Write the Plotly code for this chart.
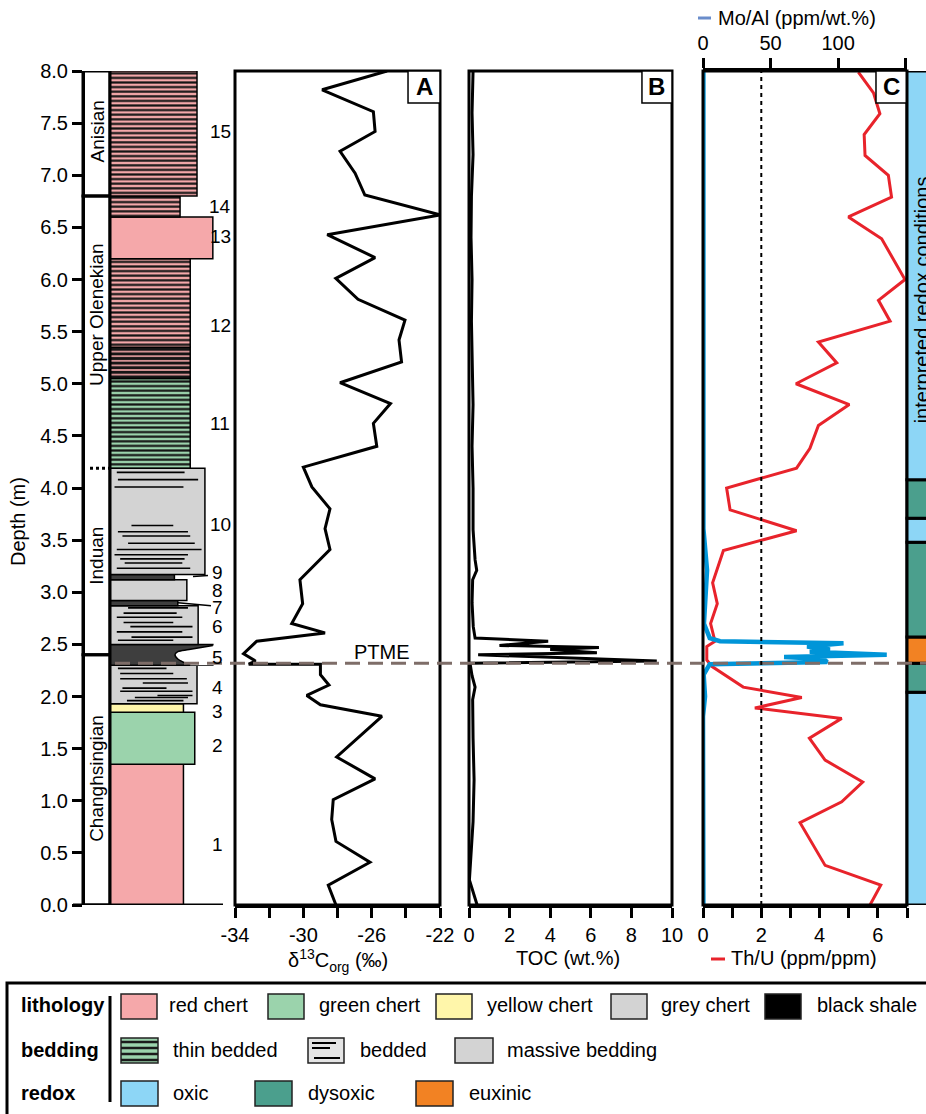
import plotly.graph_objects as go

W, H = 926, 1114
def X(p):  # pixel -> paper x
    return p / W
def Y(p):  # pixel -> paper y
    return 1 - p / H

# ---------------- DATA ----------------
# delta13C org (permil) vs depth (m)
d13c_depth = [8.00, 7.82, 7.61, 7.42, 7.23, 7.02, 6.81, 6.62, 6.43, 6.21, 6.01, 5.81, 5.61, 5.42, 5.21,
              5.01, 4.81, 4.62, 4.40, 4.20, 4.01, 3.80, 3.61, 3.41, 3.12, 2.89, 2.70, 2.61, 2.53, 2.41,
              2.34, 2.31, 2.31, 2.21, 2.11, 2.01, 1.92, 1.81, 1.42, 1.21, 1.01, 0.82, 0.61, 0.41, 0.19, 0.00]
d13c = [-25.1, -28.9, -25.9, -25.8, -27.85, -26.97, -26.4, -22.0, -28.6, -25.8, -28.1, -26.8, -24.05, -24.4, -24.25,
        -27.85, -24.9, -25.9, -25.7, -30.0, -29.5, -28.44, -28.73, -28.44, -30.2, -30.04, -30.68, -28.73, -32.73, -33.5,
        -32.8, -33.2, -29.0, -29.0, -28.5, -29.8, -29.0, -25.4, -28.05, -25.8, -28.25, -28.34, -28.09, -26.1, -28.54, -28.09]

# TOC (wt.%)
toc_depth = [8.0, 7.6, 7.2, 6.8, 6.4, 6.0, 5.6, 5.2, 4.8, 4.4, 4.0, 3.6, 3.31, 3.21, 3.12, 2.9, 2.67, 2.56,
             2.53, 2.49, 2.47, 2.45, 2.42, 2.40, 2.34, 2.32, 2.2, 2.09, 1.97, 1.6, 1.2, 0.8, 0.5, 0.24, 0.0]
toc = [0.2, 0.15, 0.2, 0.12, 0.1, 0.15, 0.12, 0.15, 0.2, 0.15, 0.2, 0.2, 0.3, 0.38, 0.18, 0.15, 0.21, 0.3,
       3.9, 1.5, 6.4, 4.0, 6.3, 0.45, 9.25, 0.05, 0.15, 0.3, 0.18, 0.2, 0.25, 0.2, 0.1, 0.02, 0.4]

# Th/U (ppm/ppm)
thu_depth = [7.99, 7.79, 7.59, 7.39, 7.19, 7.00, 6.79, 6.60, 6.39, 6.00, 5.80, 5.60, 5.40, 5.20, 5.00, 4.80,
             4.60, 4.38, 4.19, 4.00, 3.79, 3.59, 3.40, 3.09, 2.89, 2.70, 2.53, 2.48, 2.35, 2.29, 2.09, 1.99,
             1.89, 1.79, 1.60, 1.39, 1.18, 0.99, 0.79, 0.38, 0.19, 0.0]
thu = [5.33, 5.85, 6.07, 5.53, 5.56, 6.36, 6.47, 4.99, 6.13, 6.93, 6.02, 6.42, 3.96, 4.59, 3.19, 5.02,
       3.96, 3.67, 3.21, 0.81, 0.93, 3.21, 0.70, 0.33, 0.49, 0.26, 0.41, 0.13, 0.13, 0.30, 1.38, 3.39,
       1.78, 4.76, 3.65, 4.19, 5.48, 4.76, 3.33, 4.19, 6.10, 5.73]

# Mo/Al (ppm/wt.%)
mo_depth = [8.0, 4.2, 3.61, 3.21, 2.70, 2.56, 2.53, 2.51, 2.48, 2.45, 2.43, 2.40, 2.38, 2.36, 2.33, 2.31,
            2.21, 2.0, 1.81, 0.0]
mo_al = [0.3, 0.3, 0.3, 3.0, 0.7, 5.0, 12.6, 104, 77, 94, 79, 136, 60, 89, 92, 5.0,
         0.5, 1.5, 0.0, 0.3]

thu_threshold = 2
ptme_depth = 2.32

# Lithology log
litho_bottom = [0.00, 1.35, 1.85, 1.93, 2.30, 2.50, 2.87, 2.92, 3.12, 3.17, 4.19, 5.05, 5.35, 6.20, 6.60, 6.80]
litho_top = [1.35, 1.85, 1.93, 2.30, 2.50, 2.87, 2.92, 3.12, 3.17, 4.19, 5.05, 5.35, 6.20, 6.60, 6.80, 8.00]
litho_type = ['red chert', 'green chert', 'yellow chert', 'grey chert', 'black shale', 'grey chert',
              'black shale', 'grey chert', 'black shale', 'grey chert', 'green chert', 'red chert',
              'red chert', 'red chert', 'red chert', 'red chert']
litho_bedding = ['massive', 'massive', 'massive', 'bedded', 'massive', 'bedded', 'massive', 'massive',
                 'massive', 'bedded', 'thin', 'thin-dense', 'thin', 'massive', 'thin', 'thin']
litho_width = [0.65, 0.75, 0.65, 0.77, 0.91, 0.78, 0.60, 0.68, 0.57, 0.84, 0.71, 0.71, 0.71, 0.91, 0.62, 0.77]

# weathering notch on the right side of bed 5 (black shale): (relative width, depth)
notch_x = [0.91, 0.70, 0.60, 0.575, 0.60, 0.71]
notch_d = [2.49, 2.45, 2.43, 2.40, 2.36, 2.30]

# short bedding lines inside the "bedded" grey chert beds
bed_line_depth = [4.15, 4.08, 4.01, 3.64, 3.58, 3.54, 3.47, 3.41, 3.36, 3.32, 3.28, 3.23,
                  2.85, 2.80, 2.76, 2.71, 2.67, 2.62, 2.57, 2.54,
                  2.27, 2.22, 2.17, 2.13, 2.08, 2.05, 2.01, 1.99, 1.96]
bed_line_start = [0.06, 0.07, 0.04, 0.19, 0.07, 0.11, 0.16, 0.06, 0.04, 0.09, 0.13, 0.06,
                  0.16, 0.12, 0.06, 0.12, 0.18, 0.06, 0.19, 0.07,
                  0.07, 0.09, 0.09, 0.29, 0.11, 0.09, 0.42, 0.22, 0.15]
bed_line_end = [0.66, 0.78, 0.65, 0.56, 0.69, 0.71, 0.75, 0.81, 0.69, 0.66, 0.64, 0.71,
                0.69, 0.59, 0.64, 0.56, 0.73, 0.64, 0.73, 0.56,
                0.50, 0.56, 0.68, 0.69, 0.50, 0.73, 0.73, 0.69, 0.65]

bed_numbers = ['1', '2', '3', '4', '5', '6', '7', '8', '9', '10', '11', '12', '13', '14', '15']
bed_number_depth = [0.58, 1.53, 1.86, 2.09, 2.37, 2.67, 2.85, 3.02, 3.19, 3.65, 4.62, 5.56, 6.41, 6.70, 7.42]

# Stages
stage_bottom = [0.0, 2.4, 6.8]
stage_top = [2.4, 6.8, 8.0]
stage_names = ['Changhsingian', 'Induan', 'Upper Olenekian', 'Anisian']
stage_label_depth = [1.21, 3.35, 5.66, 7.42]
induan_olenekian_boundary = 4.19

# Redox
redox_bottom = [0.0, 2.04, 2.32, 2.57, 3.48, 3.71, 4.08]
redox_top = [2.04, 2.32, 2.57, 3.48, 3.71, 4.08, 8.0]
redox_state = ['oxic', 'dysoxic', 'euxinic', 'dysoxic', 'oxic', 'dysoxic', 'oxic']

depth_ticks = [0.0, 0.5, 1.0, 1.5, 2.0, 2.5, 3.0, 3.5, 4.0, 4.5, 5.0, 5.5, 6.0, 6.5, 7.0, 7.5, 8.0]
d13c_ticks = [-34, -32, -30, -28, -26, -24, -22]
d13c_ticklabels = ['-34', ' ', '-30', ' ', '-26', ' ', '-22']
toc_ticks = [0, 2, 4, 6, 8, 10]
thu_ticks = [0, 1, 2, 3, 4, 5, 6, 7]
thu_ticklabels = ['0', ' ', '2', ' ', '4', ' ', '6', ' ']
mo_ticks = [0, 50, 100, 150]
mo_ticklabels = ['0', '50', '100', ' ']

# ---------------- STYLE ----------------
LITHO_COL = {'red chert': '#F5A8AA', 'green chert': '#9BD3AC', 'yellow chert': '#FFF6AA',
             'grey chert': '#D3D3D3', 'black shale': '#3E3E3E'}
REDOX_COL = {'oxic': '#8DD6F6', 'dysoxic': '#4B9F8D', 'euxinic': '#F28223'}
FONT = 'Liberation Sans, Arial, sans-serif'
BLUE = '#0095D8'
RED = '#E8232B'

fig = go.Figure()

# lithology bars
for b, t, lt, bd, w in zip(litho_bottom, litho_top, litho_type, litho_bedding, litho_width):
    pat = dict(shape='')
    if bd.startswith('thin'):
        pat = dict(shape='-', fgcolor='#151515', bgcolor=LITHO_COL[lt], fillmode='replace', size=4.6,
                   solidity=0.66 if bd == 'thin-dense' else 0.48)
    fig.add_trace(go.Bar(x=[w], y=[(b + t) / 2], width=[t - b], base=0, orientation='h',
                         xaxis='x5', yaxis='y',
                         marker=dict(color=LITHO_COL[lt], line=dict(color='black', width=1.5),
                                     pattern=pat),
                         hoverinfo='skip', showlegend=False))

# notch of bed 5 (white fill, then black outline)
fig.add_trace(go.Scatter(x=notch_x + [1.0, 1.0], y=notch_d + [notch_d[-1], notch_d[0]],
                         fill='toself', fillcolor='white', mode='none', xaxis='x5', yaxis='y',
                         hoverinfo='skip', showlegend=False))
fig.add_trace(go.Scatter(x=notch_x, y=notch_d, mode='lines', xaxis='x5', yaxis='y',
                         line=dict(color='black', width=1.5, shape='spline'),
                         hoverinfo='skip', showlegend=False))

# bedding lines
bx, by = [], []
for d, s, e in zip(bed_line_depth, bed_line_start, bed_line_end):
    bx += [s, e, None]
    by += [d, d, None]
fig.add_trace(go.Scatter(x=bx, y=by, mode='lines', xaxis='x5', yaxis='y',
                         line=dict(color='black', width=1.6), hoverinfo='skip', showlegend=False))

# data curves
fig.add_trace(go.Scatter(x=d13c, y=d13c_depth, mode='lines', xaxis='x', yaxis='y',
                         line=dict(color='black', width=3), showlegend=False))
fig.add_trace(go.Scatter(x=toc, y=toc_depth, mode='lines', xaxis='x2', yaxis='y',
                         line=dict(color='black', width=3), showlegend=False))
fig.add_trace(go.Scatter(x=thu, y=thu_depth, mode='lines', xaxis='x3', yaxis='y',
                         line=dict(color=RED, width=3), showlegend=False))
fig.add_trace(go.Scatter(x=mo_al, y=mo_depth, mode='lines', xaxis='x4', yaxis='y',
                         line=dict(color=BLUE, width=4.5), showlegend=False))

tick_common = dict(ticks='outside', ticklen=10, tickwidth=3, tickcolor='black', automargin=False,
                   showline=True, linewidth=3, linecolor='black', showgrid=False, zeroline=False,
                   tickfont=dict(size=20, color='black', family=FONT))

fig.update_layout(
    template='none',
    width=W, height=H, autosize=False,
    margin=dict(l=0, r=0, t=0, b=0, pad=0),
    paper_bgcolor='white', plot_bgcolor='rgba(0,0,0,0)',
    font=dict(family=FONT, size=20, color='black'),
    barmode='overlay', showlegend=False,
    yaxis=dict(domain=[Y(905), Y(71)], range=[0, 8], anchor='free', position=X(83),
               tickvals=depth_ticks, ticktext=['%.1f' % v for v in depth_ticks], **tick_common),
    xaxis=dict(domain=[X(235), X(440)], range=[-34, -22], anchor='y',
               tickvals=d13c_ticks, ticktext=d13c_ticklabels, **tick_common),
    xaxis2=dict(domain=[X(469), X(672)], range=[0, 10], anchor='y',
                tickvals=toc_ticks, ticktext=[str(v) for v in toc_ticks], **tick_common),
    xaxis3=dict(domain=[X(703), X(907)], range=[0, 7], anchor='y',
                tickvals=thu_ticks, ticktext=thu_ticklabels, **tick_common),
    xaxis4=dict(overlaying='x3', side='top', range=[0, 151], anchor='y',
                tickvals=mo_ticks, ticktext=mo_ticklabels, **tick_common),
    xaxis5=dict(domain=[X(110), X(223)], range=[0, 1], anchor='y', visible=False, automargin=False),
)

shapes = []
annos = []

# panel boxes and letter boxes
for xd, letter, lx0 in [('x domain', 'A', 0.844), ('x2 domain', 'B', 0.852), ('x3 domain', 'C', 0.848)]:
    shapes.append(dict(type='rect', xref=xd, yref='y domain', x0=0, x1=1, y0=0, y1=1,
                       line=dict(color='black', width=3)))
    shapes.append(dict(type='rect', xref=xd, yref='y domain', x0=lx0, x1=1, y0=0.9615, y1=1,
                       fillcolor='white', line=dict(color='black', width=1.5)))
    annos.append(dict(xref=xd, yref='y domain', x=(lx0 + 1) / 2, y=0.981, text='<b>%s</b>' % letter,
                      showarrow=False, font=dict(size=24), xanchor='center', yanchor='middle'))

# stage column
for b, t in zip(stage_bottom, stage_top):
    shapes.append(dict(type='rect', xref='paper', yref='y', x0=X(83), x1=X(110), y0=b, y1=t,
                       line=dict(color='black', width=3), layer='below'))
shapes.append(dict(type='line', xref='paper', yref='y', x0=X(90), x1=X(110),
                   y0=induan_olenekian_boundary, y1=induan_olenekian_boundary,
                   line=dict(color='black', width=3, dash='dot')))
for name, d in zip(stage_names, stage_label_depth):
    annos.append(dict(xref='paper', yref='y', x=X(97), y=d, text=name, textangle=-90,
                      showarrow=False, font=dict(size=19), xanchor='center', yanchor='middle'))

# column base line and left edge of lithology column
shapes.append(dict(type='line', xref='paper', yref='y', x0=X(73), x1=X(223), y0=0, y1=0,
                   line=dict(color='black', width=3)))
shapes.append(dict(type='line', xref='paper', yref='y', x0=X(110), x1=X(110), y0=0, y1=8,
                   line=dict(color='black', width=3)))

# bed numbers
for n, d in zip(bed_numbers, bed_number_depth):
    annos.append(dict(xref='paper', yref='y', x=X(220 if len(n) > 1 else 217), y=d, text=n,
                      showarrow=False, font=dict(size=19), xanchor='center', yanchor='middle'))
# connector ticks for beds 9 and 7
shapes.append(dict(type='line', xref='paper', yref='y', x0=X(193), x1=X(208), y0=3.15, y1=3.16,
                   line=dict(color='black', width=1.5)))
shapes.append(dict(type='line', xref='paper', yref='y', x0=X(178), x1=X(211), y0=2.90, y1=2.87,
                   line=dict(color='black', width=1.5)))

# redox column
for b, t, s in zip(redox_bottom, redox_top, redox_state):
    shapes.append(dict(type='rect', xref='paper', yref='y', x0=X(907), x1=X(960), y0=b, y1=t,
                       fillcolor=REDOX_COL[s], line=dict(color='black', width=3)))
annos.append(dict(xref='paper', yref='y', x=X(922), y=5.8, text='interpreted redox conditions',
                  textangle=-90, showarrow=False, font=dict(size=20), xanchor='center', yanchor='middle'))

# PTME line
shapes.append(dict(type='line', xref='paper', yref='y', x0=X(115), x1=1, y0=ptme_depth, y1=ptme_depth,
                   line=dict(color='#7E6D68', width=3, dash='15px,8px')))
annos.append(dict(xref='paper', yref='y', x=X(382), y=ptme_depth, text='PTME', showarrow=False,
                  font=dict(size=20), xanchor='center', yanchor='bottom', yshift=-2))

# Th/U threshold dotted line
shapes.append(dict(type='line', xref='x3', yref='y domain', x0=thu_threshold, x1=thu_threshold,
                   y0=0, y1=1, line=dict(color='black', width=2, dash='4px,4px')))

# axis titles
annos.append(dict(xref='paper', yref='paper', x=X(18), y=Y(522), text='Depth (m)', textangle=-90,
                  showarrow=False, font=dict(size=20), xanchor='center', yanchor='middle'))
annos.append(dict(xref='paper', yref='paper', x=X(338), y=Y(960),
                  text='δ<sup>13</sup>C<sub>org</sub> (‰)', showarrow=False, font=dict(size=20),
                  xanchor='center', yanchor='middle'))
annos.append(dict(xref='paper', yref='paper', x=X(568), y=Y(958), text='TOC (wt.%)', showarrow=False,
                  font=dict(size=20), xanchor='center', yanchor='middle'))

# series keys
shapes.append(dict(type='line', xref='paper', yref='paper', x0=X(698), x1=X(711), y0=Y(18), y1=Y(18),
                   line=dict(color='#6A8DCB', width=3)))
annos.append(dict(xref='paper', yref='paper', x=X(716), y=Y(18), text='Mo/Al (ppm/wt.%)',
                  showarrow=False, font=dict(size=20), xanchor='left', yanchor='middle'))
shapes.append(dict(type='line', xref='paper', yref='paper', x0=X(711), x1=X(725), y0=Y(959), y1=Y(959),
                   line=dict(color=RED, width=3)))
annos.append(dict(xref='paper', yref='paper', x=X(729), y=Y(958), text='Th/U (ppm/ppm)',
                  showarrow=False, font=dict(size=20), xanchor='left', yanchor='middle'))

# ---------------- bottom legend ----------------
shapes.append(dict(type='rect', xref='paper', yref='paper', x0=X(7), x1=X(980), y0=Y(983), y1=Y(1160),
                   line=dict(color='black', width=3)))
shapes.append(dict(type='line', xref='paper', yref='paper', x0=X(110), x1=X(110), y0=Y(996), y1=Y(1102),
                   line=dict(color='black', width=3)))

def swatch(x0, x1, y0, y1, color):
    shapes.append(dict(type='rect', xref='paper', yref='paper', x0=X(x0), x1=X(x1), y0=Y(y1), y1=Y(y0),
                       fillcolor=color, line=dict(color='#222', width=1.5)))

def label(x, y, text, bold=False):
    annos.append(dict(xref='paper', yref='paper', x=X(x), y=Y(y),
                      text='<b>%s</b>' % text if bold else text, showarrow=False,
                      font=dict(size=20), xanchor='left', yanchor='middle'))

label(19, 1005, 'lithology', True)
label(19, 1050, 'bedding', True)
label(19, 1093, 'redox', True)

legend_litho = [('red chert', 121, 167), ('green chert', 268, 317), ('yellow chert', 436, 485),
                ('grey chert', 611, 659), ('black shale', 765, 815)]
for name, sx, tx in legend_litho:
    swatch(sx, sx + 36, 994, 1019, '#000000' if name == 'black shale' else LITHO_COL[name])
    label(tx, 1005, name)

# bedding swatches
swatch(121, 158, 1038, 1063, LITHO_COL['green chert'])
for yy in [1042, 1048, 1054, 1060]:
    shapes.append(dict(type='line', xref='paper', yref='paper', x0=X(121), x1=X(158), y0=Y(yy), y1=Y(yy),
                       line=dict(color='#1b1b1b', width=2.5)))
label(171, 1050, 'thin bedded')
swatch(308, 344, 1038, 1063, '#E4E4E4')
for yy, a, b in [(1043, 312, 336), (1048, 312, 330), (1058, 314, 340)]:
    shapes.append(dict(type='line', xref='paper', yref='paper', x0=X(a), x1=X(b), y0=Y(yy), y1=Y(yy),
                       line=dict(color='black', width=2)))
label(358, 1050, 'bedded')
swatch(455, 493, 1038, 1063, LITHO_COL['grey chert'])
label(505, 1050, 'massive bedding')

legend_redox = [('oxic', 121, 171), ('dysoxic', 255, 306), ('euxinic', 416, 467)]
for name, sx, tx in legend_redox:
    swatch(sx, sx + 37, 1081, 1106, REDOX_COL[name])
    label(tx, 1093, name)

fig.update_layout(shapes=shapes, annotations=annos)
fig.write_html('out.html', config={'displayModeBar': False, 'staticPlot': True},
               post_script="document.body.style.margin='0';document.body.style.padding='0';"
                           "document.body.style.overflow='hidden';")
